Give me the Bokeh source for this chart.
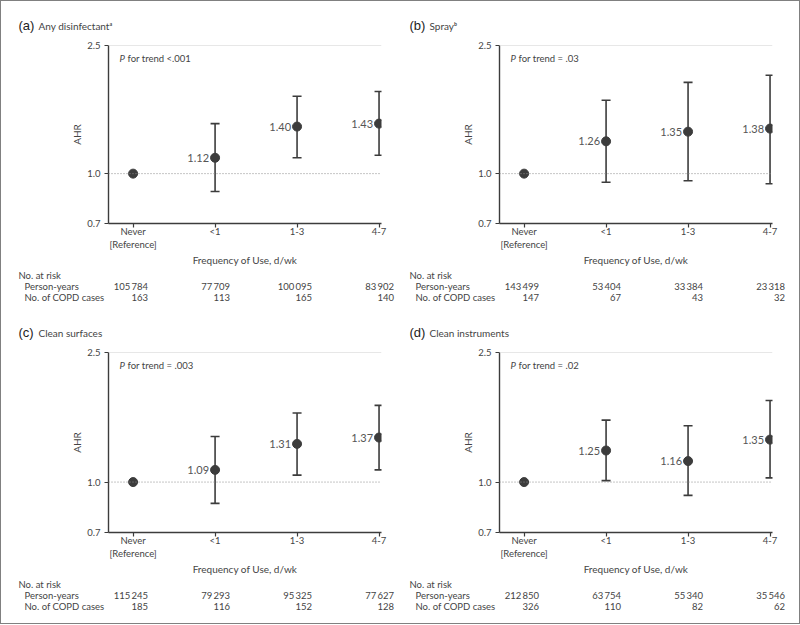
from bokeh.plotting import figure
from bokeh.models import (Range1d, FixedTicker, PrintfTickFormatter, Span, Whisker,
                          TeeHead, ColumnDataSource, Label)
from bokeh.layouts import column, row
from bokeh.embed import file_html
from bokeh.resources import INLINE
from bokeh.core.properties import value

# ---------------- data ----------------
categories = ["Never\n[Reference]", "<1", "1-3", "4-7"]
x_pos = [0, 1, 2, 3]
y_ticks = [0.7, 1.0, 2.5]

panel_letters = ["(a)", "(b)", "(c)", "(d)"]
panel_names = ["Any disinfectant\u1d43", "Spray\u1d47", "Clean surfaces", "Clean instruments"]
p_trend = ["<.001", "= .03", "= .003", "= .02"]
row_labels = ["No. at risk", "Person-years", "No. of COPD cases"]

ahr_a = [1.0, 1.12, 1.40, 1.43]
lower_a = [0.88, 1.12, 1.14]
upper_a = [1.43, 1.74, 1.80]

ahr_b = [1.0, 1.26, 1.35, 1.38]
lower_b = [0.94, 0.95, 0.93]
upper_b = [1.69, 1.92, 2.02]

ahr_c = [1.0, 1.09, 1.31, 1.37]
lower_c = [0.86, 1.05, 1.09]
upper_c = [1.38, 1.63, 1.72]

ahr_d = [1.0, 1.25, 1.16, 1.35]
lower_d = [1.01, 0.91, 1.03]
upper_d = [1.55, 1.49, 1.78]

person_years_a = [105784, 77709, 100095, 83902]
copd_cases_a = [163, 113, 165, 140]
person_years_b = [143499, 53404, 33384, 23318]
copd_cases_b = [147, 67, 43, 32]
person_years_c = [115245, 79293, 95325, 77627]
copd_cases_c = [185, 116, 152, 128]
person_years_d = [212850, 63754, 55340, 35546]
copd_cases_d = [326, 110, 82, 62]

# ---------------- style ----------------
NARROW = "Lato"
REG = "Liberation Sans"
DARK = "#3c3c3c"
TXT = "#444444"
PW = 399            # panel width
X0, X1 = -0.3, 3.03  # x data range of the plot frame
FW = 273            # frame width


def fmt(n):
    return f"{n:,}".replace(",", "\u2009")


def text_fig(w, h, xr):
    f = figure(width=w, height=h, x_range=xr, y_range=Range1d(h, 0),
               output_backend="svg", toolbar_location=None,
               x_axis_location=None, y_axis_location=None, min_border=0,
               frame_align=False)
    f.outline_line_color = None
    f.xgrid.visible = False
    f.ygrid.visible = False
    return f


def make_panel(k, ahr, lo, hi, py, cases, left, top, fh, bottom, head_h, title_y, table_h):
    # ---------- header with panel title ----------
    head = text_fig(PW, head_h, Range1d(0, PW))
    head.text(x=[left - 90], y=[title_y], text=[panel_letters[k]], text_font=value(REG),
              text_font_size="13px", text_color="#222222", text_baseline="middle")
    head.text(x=[left - 70], y=[title_y], text=[panel_names[k]], text_font=value(NARROW),
              text_font_size="10px", text_color=TXT, text_baseline="middle")

    # ---------- main plot ----------
    p = figure(frame_width=FW, frame_height=fh, x_range=Range1d(X0, X1),
               y_range=Range1d(0.7, 2.5), y_axis_type="log",
               output_backend="svg", toolbar_location=None, frame_align=False,
               min_border_left=left, min_border_right=PW - left - FW,
               min_border_top=top, min_border_bottom=bottom)
    p.outline_line_color = None
    p.xgrid.visible = False
    p.ygrid.visible = False

    p.yaxis.ticker = FixedTicker(ticks=y_ticks)
    p.yaxis.formatter = PrintfTickFormatter(format="%.1f")
    p.yaxis.axis_label = "AHR"
    p.xaxis.ticker = FixedTicker(ticks=x_pos)
    p.xaxis.major_label_overrides = {x: c for x, c in zip(x_pos, categories)}
    p.xaxis.axis_label = "Frequency of Use, d/wk"
    for ax in (p.xaxis[0], p.yaxis[0]):
        ax.axis_line_color = DARK
        ax.axis_line_width = 1.4
        ax.major_tick_line_color = DARK
        ax.major_tick_line_width = 1.2
        ax.major_tick_out = 4
        ax.major_tick_in = 0
        ax.minor_tick_line_color = None
        ax.major_label_text_font = NARROW
        ax.major_label_text_font_size = "9.5px"
        ax.major_label_text_color = TXT
        ax.axis_label_text_font = NARROW
        ax.axis_label_text_font_size = "10px"
        ax.axis_label_text_font_style = "normal"
        ax.axis_label_text_color = TXT
    p.xaxis.major_label_standoff = -2
    p.xaxis.axis_label_standoff = 1
    p.yaxis.major_label_standoff = 4
    p.yaxis.axis_label_standoff = 1

    p.add_layout(Span(location=2.5, dimension="width", line_color="#d0d0d0", line_width=1))
    p.add_layout(Span(location=1.0, dimension="width", line_color="#8a8a8a",
                      line_width=1, line_dash="1 2"))

    ci = ColumnDataSource(dict(x=x_pos[1:], lower=lo, upper=hi))
    p.add_layout(Whisker(base="x", lower="lower", upper="upper", source=ci,
                         line_color=DARK, line_width=1.6,
                         upper_head=TeeHead(size=9, line_color=DARK, line_width=1.6),
                         lower_head=TeeHead(size=9, line_color=DARK, line_width=1.6)))

    pts = ColumnDataSource(dict(x=x_pos, y=ahr))
    p.scatter("x", "y", source=pts, size=9, color=DARK)

    vals = ColumnDataSource(dict(x=x_pos[1:], y=ahr[1:], t=[f"{v:.2f}" for v in ahr[1:]]))
    p.text("x", "y", text="t", source=vals, text_align="right", text_baseline="middle",
           x_offset=-6, text_font=value(NARROW), text_font_size="11px", text_color="#555555")

    p.add_layout(Label(x=11, y=fh - 13, x_units="screen", y_units="screen", text="P",
                       text_font=NARROW, text_font_style="italic", text_font_size="9.5px",
                       text_color=TXT, text_baseline="middle"))
    p.add_layout(Label(x=19, y=fh - 13, x_units="screen", y_units="screen",
                       text="for trend " + p_trend[k],
                       text_font=NARROW, text_font_size="9.5px",
                       text_color=TXT, text_baseline="middle"))

    # ---------- number-at-risk table (x aligned with plot scale) ----------
    ppu = FW / (X1 - X0)
    t0 = X0 - left / ppu
    table = text_fig(PW, table_h, Range1d(t0, t0 + PW / ppu))
    row_y = [5, 16, 27]
    table.text(x=[t0] * 3, y=row_y, text=row_labels, x_offset=[left - 90, left - 84, left - 84],
               text_font=value(NARROW), text_font_size="9.5px", text_color=TXT,
               text_baseline="middle")
    table.text(x=x_pos, y=[row_y[1]] * 4, text=[fmt(v) for v in py], x_offset=15,
               text_align="right", text_font=value(NARROW), text_font_size="9.5px",
               text_color=TXT, text_baseline="middle")
    table.text(x=x_pos, y=[row_y[2]] * 4, text=[fmt(v) for v in cases], x_offset=15,
               text_align="right", text_font=value(NARROW), text_font_size="9.5px",
               text_color=TXT, text_baseline="middle")

    return column(head, p, table, spacing=0)


pa = make_panel(0, ahr_a, lower_a, upper_a, person_years_a, copd_cases_a,
                107, 10, 178, 47, 34, 24, 40)
pb = make_panel(1, ahr_b, lower_b, upper_b, person_years_b, copd_cases_b,
                99, 10, 178, 47, 34, 24, 40)
pc = make_panel(2, ahr_c, lower_c, upper_c, person_years_c, copd_cases_c,
                107, 8, 180, 47, 34, 22, 44)
pd = make_panel(3, ahr_d, lower_d, upper_d, person_years_d, copd_cases_d,
                99, 8, 180, 47, 34, 22, 44)

layout = column(row(pa, pb, spacing=0), row(pc, pd, spacing=0), spacing=0,
                styles={"border": "1px solid #808080"})

open("out.html", "w").write(file_html(layout, INLINE))
